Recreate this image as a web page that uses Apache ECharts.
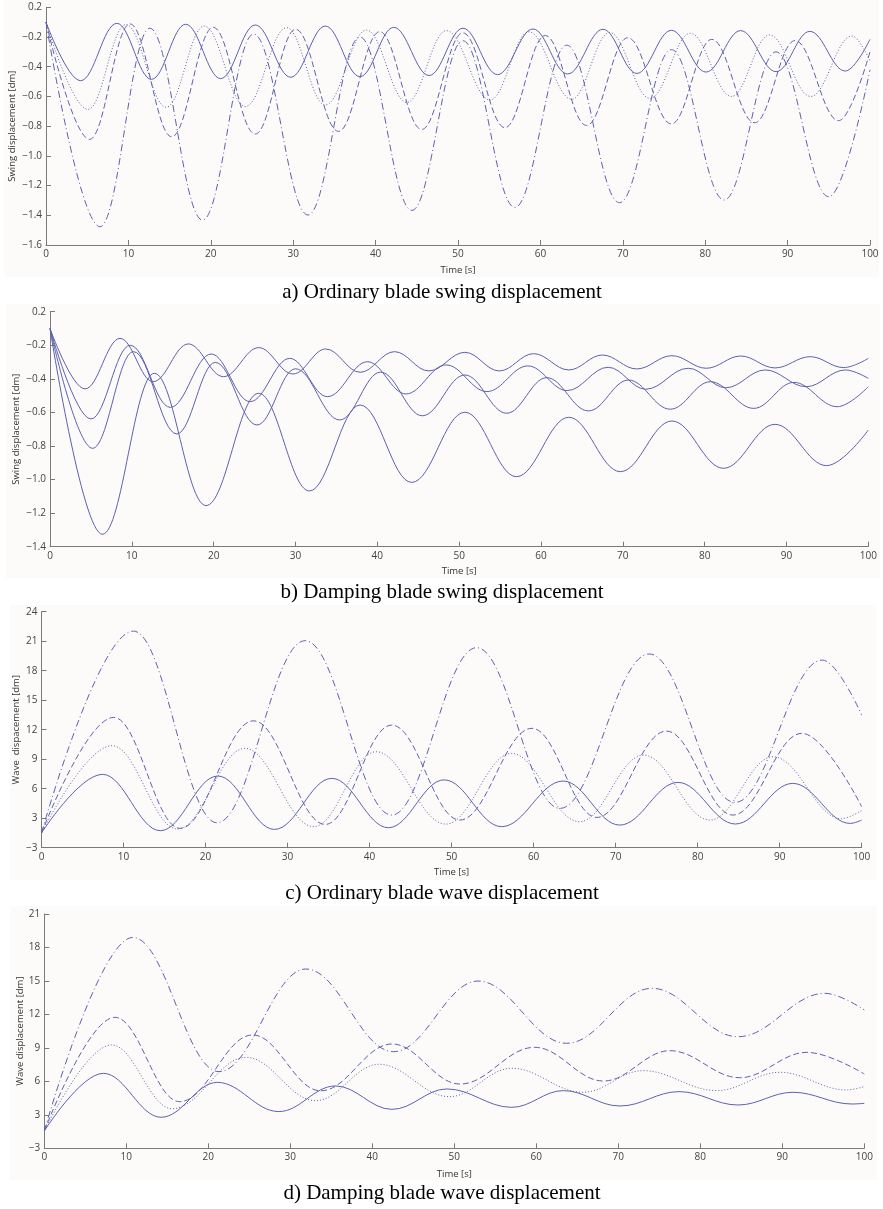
<!DOCTYPE html>
<html><head><meta charset="utf-8">
<script src="https://cdn.jsdelivr.net/npm/echarts@6/dist/echarts.min.js"></script>
<style>html,body{margin:0;padding:0;background:#fff}#c{width:883px;height:1209px}</style>
</head><body><div id="c"></div>
<script>
// ---------- tick labels ----------
const xTickLabels = ['0','10','20','30','40','50','60','70','80','90','100'];
const yTicksA = ['\u22121.6','\u22121.4','\u22121.2','\u22121.0','\u22120.8','\u22120.6','\u22120.4','\u22120.2','0.2'];
const yTicksB = ['\u22121.4','\u22121.2','\u22121.0','\u22120.8','\u22120.6','\u22120.4','\u22120.2','0.2'];
const yTicksC = ['\u22123','3','6','9','12','15','18','21','24'];
const yTicksD = ['\u22123','3','6','9','12','15','18','21'];

// ---------- a) Ordinary blade swing displacement ----------
const aSolid = [[0,-0.10],[4.2,-0.494],[8.6,-0.108],[12.8,-0.485],[16.95,-0.114],[21.2,-0.48],[25.4,-0.119],[29.7,-0.471],[33.9,-0.126],[38.1,-0.467],[42.2,-0.135],[46.5,-0.459],[50.6,-0.141],[54.8,-0.453],[59.1,-0.146],[63.3,-0.449],[67.6,-0.148],[71.7,-0.445],[75.9,-0.155],[80.1,-0.436],[84.3,-0.157],[88.6,-0.433],[92.7,-0.162],[97.0,-0.429],[100,-0.216]];
const aDotted = [[0,-0.10],[5.1,-0.687],[9.7,-0.116],[14.6,-0.673],[19.2,-0.126],[24.2,-0.668],[29.2,-0.137],[33.9,-0.658],[38.9,-0.153],[43.8,-0.64],[48.6,-0.157],[53.9,-0.624],[58.6,-0.165],[63.8,-0.619],[68.4,-0.17],[73.3,-0.613],[78.2,-0.175],[83.2,-0.60],[87.8,-0.186],[92.8,-0.60],[97.8,-0.193],[100,-0.36]];
const aDashed = [[0,-0.10],[5.3,-0.889],[10.2,-0.112],[15.25,-0.871],[20.3,-0.135],[25.4,-0.853],[30.3,-0.148],[35.5,-0.835],[40.5,-0.164],[45.6,-0.822],[50.6,-0.172],[55.7,-0.81],[60.6,-0.19],[65.6,-0.795],[70.6,-0.205],[75.9,-0.785],[80.8,-0.216],[86.0,-0.777],[90.9,-0.224],[96.2,-0.763],[100,-0.30]];
const aDashDot = [[0,-0.10],[6.55,-1.477],[12.6,-0.141],[19.0,-1.432],[25.2,-0.18],[31.8,-1.398],[38.1,-0.2],[44.4,-1.367],[50.6,-0.225],[56.9,-1.347],[63.2,-0.255],[69.6,-1.315],[75.9,-0.285],[82.3,-1.297],[88.6,-0.3],[95.0,-1.275],[100,-0.42]];

// ---------- b) Damping blade swing displacement ----------
const bLine1 = [[0,-0.10],[4.28,-0.46],[8.56,-0.159],[12.6,-0.417],[16.9,-0.192],[21.2,-0.387],[25.5,-0.214],[29.7,-0.371],[33.7,-0.222],[37.9,-0.361],[42.1,-0.238],[46.3,-0.353],[50.7,-0.242],[54.9,-0.353],[59.1,-0.25],[63.4,-0.347],[67.5,-0.258],[71.7,-0.341],[76.0,-0.262],[80.2,-0.337],[84.4,-0.264],[88.6,-0.335],[92.9,-0.268],[97.0,-0.333],[100,-0.278]];
const bLine2 = [[0,-0.10],[5.0,-0.639],[9.8,-0.2],[14.7,-0.57],[19.7,-0.252],[24.45,-0.536],[29.3,-0.278],[33.9,-0.506],[38.8,-0.298],[43.5,-0.49],[48.4,-0.317],[53.4,-0.476],[58.4,-0.323],[63.2,-0.47],[68.2,-0.331],[72.8,-0.462],[78.0,-0.337],[82.6,-0.453],[87.4,-0.347],[92.4,-0.447],[97.2,-0.347],[100,-0.397]];
const bLine3 = [[0,-0.10],[5.2,-0.814],[10.2,-0.238],[15.5,-0.728],[20.2,-0.302],[25.3,-0.675],[30.0,-0.34],[35.4,-0.645],[40.4,-0.36],[45.5,-0.62],[50.7,-0.377],[55.8,-0.605],[60.7,-0.393],[65.8,-0.591],[70.7,-0.407],[75.8,-0.581],[80.7,-0.417],[86.0,-0.576],[90.9,-0.421],[96.2,-0.566],[100,-0.447]];
const bLine4 = [[0,-0.10],[6.4,-1.326],[12.75,-0.367],[19.07,-1.155],[25.5,-0.486],[31.7,-1.068],[37.9,-0.556],[44.2,-1.017],[50.7,-0.599],[57.0,-0.983],[63.4,-0.629],[69.7,-0.953],[76.0,-0.651],[82.3,-0.933],[88.6,-0.671],[94.9,-0.917],[100,-0.705]];

// ---------- c) Ordinary blade wave displacement ----------
const cSolid = [[0,1.5],[7.44,7.46],[14.5,1.73],[21.5,7.29],[28.4,1.86],[35.4,7.05],[42.3,2.03],[49.1,6.9],[56.1,2.14],[63.6,6.78],[70.5,2.3],[77.6,6.64],[84.6,2.41],[91.6,6.54],[98.6,2.47],[100,2.81]];
const cDotted = [[0,1.5],[8.6,10.37],[16.6,1.9],[24.8,10.1],[33.2,2.14],[40.8,9.76],[49.3,2.4],[57.3,9.59],[65.6,2.64],[73.4,9.42],[81.5,2.81],[89.2,9.25],[97.5,2.95],[100,3.8]];
const cDashed = [[0,1.5],[8.8,13.25],[16.9,1.97],[25.85,12.9],[34.6,2.37],[42.7,12.47],[51.0,2.81],[59.8,12.14],[67.7,3.08],[76.2,11.86],[84.3,3.32],[92.7,11.63],[100,4.17]];
const cDashDot = [[0,1.5],[11.2,22.03],[21.4,2.54],[32.15,21.05],[42.7,3.32],[53.05,20.34],[63.2,4.0],[74.1,19.7],[84.55,4.61],[95.2,19.08],[100,13.49]];

// ---------- d) Damping blade wave displacement ----------
const dSolid = [[0,1.55],[7.2,6.72],[14.25,2.78],[21.1,5.91],[28.6,3.29],[35.5,5.59],[42.4,3.49],[49.1,5.32],[57.0,3.67],[63.3,5.17],[70.2,3.79],[77.4,5.08],[84.6,3.88],[91.3,5.02],[98.5,3.97],[100,4.03]];
const dDotted = [[0,1.55],[8.2,9.26],[15.6,3.55],[24.6,8.15],[33.1,4.27],[40.8,7.53],[49.4,4.63],[57.0,7.17],[65.7,5.02],[73.0,6.96],[82.0,5.17],[89.7,6.81],[97.8,5.23],[100,5.53]];
const dDashed = [[0,1.55],[8.6,11.74],[16.5,4.18],[25.4,10.16],[33.7,5.15],[42.4,9.35],[50.7,5.76],[59.8,9.05],[68.2,6.03],[76.3,8.75],[84.8,6.33],[93.0,8.6],[100,6.66]];
const dDashDot = [[0,1.55],[10.8,18.9],[21.3,6.87],[31.9,16.07],[42.6,8.66],[52.9,14.99],[63.7,9.41],[74.1,14.34],[84.6,10.0],[95.2,13.89],[100,12.4]];

// ---------- styling ----------
const FONT = '"Open Sans", "Noto Sans", sans-serif';
const LINE = '#5d61ae';
const AXIS = '#7a7a7a';
const STY = { solid: 'solid', dotted: [1, 2], dashed: [6, 3], dashdot: [7, 3, 1, 3] };

const grids = [
  { left: 46, top: 7.3, width: 824, height: 237.7, outerBoundsMode: 'none', containLabel: false },
  { left: 50, top: 311.7, width: 818.3, height: 235, outerBoundsMode: 'none', containLabel: false },
  { left: 41.5, top: 611.7, width: 820.2, height: 236, outerBoundsMode: 'none', containLabel: false },
  { left: 44.3, top: 914, width: 820, height: 234.3, outerBoundsMode: 'none', containLabel: false }
];

function xAx(gi, gap) {
  return {
    type: 'value', gridIndex: gi, min: 0, max: 100, interval: 10,
    name: 'Time [s]', nameLocation: 'middle', nameGap: gap, nameMoveOverlap: false,
    nameTextStyle: { fontFamily: FONT, fontSize: 9.5, color: '#333' },
    axisLine: { show: true, onZero: false, lineStyle: { color: AXIS, width: 1 } },
    axisTick: { show: true, inside: true, length: 5, lineStyle: { color: AXIS } },
    axisLabel: { fontFamily: FONT, fontSize: 10, color: '#444', margin: 4,
      formatter: v => xTickLabels[Math.round(v / 10)] },
    splitLine: { show: false }
  };
}
function yAx(gi, min, max, interval, labels, name, gap) {
  return {
    type: 'value', gridIndex: gi, min: min, max: max, interval: interval,
    name: name, nameLocation: 'middle', nameGap: gap, nameMoveOverlap: false,
    nameTextStyle: { fontFamily: FONT, fontSize: 9.5, color: '#333' },
    axisLine: { show: true, onZero: false, lineStyle: { color: AXIS, width: 1 } },
    axisTick: { show: true, inside: true, length: 5, lineStyle: { color: AXIS } },
    axisLabel: { fontFamily: FONT, fontSize: 10, color: '#444', margin: 4,
      formatter: v => labels[Math.round((v - min) / interval)] },
    splitLine: { show: false }
  };
}
function ser(gi, data, type) {
  return {
    type: 'line', xAxisIndex: gi, yAxisIndex: gi, data: data,
    symbol: 'none', showSymbol: false, smooth: 0.38, smoothMonotone: 'x',
    lineStyle: { color: LINE, width: 1, type: STY[type] },
    silent: true, animation: false
  };
}

const bgRects = [[4, 0, 875, 277], [6, 304, 874, 274], [10, 605, 866, 275], [10, 906, 867, 274]];
const captions = [
  ['a) Ordinary blade swing displacement', 292],
  ['b) Damping blade swing displacement', 592],
  ['c) Ordinary blade wave displacement', 893],
  ['d) Damping blade wave displacement', 1193]
];

const graphic = [];
bgRects.forEach(r => graphic.push({ type: 'rect', z: -10, silent: true,
  shape: { x: r[0], y: r[1], width: r[2], height: r[3] }, style: { fill: '#fcfbf9' } }));
captions.forEach(c => graphic.push({ type: 'text', x: 442, y: c[1], silent: true,
  style: { text: c[0], font: '21px "Liberation Serif", "Times New Roman", serif', fill: '#000',
    textAlign: 'center', textVerticalAlign: 'middle' } }));

const option = {
  backgroundColor: '#ffffff',
  animation: false,
  grid: grids,
  xAxis: [xAx(0, 20), xAx(1, 20), xAx(2, 20), xAx(3, 21)],
  yAxis: [
    yAx(0, -1.6, 0, 0.2, yTicksA, 'Swing displacement [dm]', 28.5),
    yAx(1, -1.4, 0, 0.2, yTicksB, 'Swing displacement [dm]', 28.5),
    yAx(2, 0, 24, 3, yTicksC, 'Wave  dispacement [dm]', 20),
    yAx(3, 0, 21, 3, yTicksD, 'Wave displacement [dm]', 19.5)
  ],
  graphic: graphic,
  series: [
    ser(0, aSolid, 'solid'), ser(0, aDotted, 'dotted'), ser(0, aDashed, 'dashed'), ser(0, aDashDot, 'dashdot'),
    ser(1, bLine1, 'solid'), ser(1, bLine2, 'solid'), ser(1, bLine3, 'solid'), ser(1, bLine4, 'solid'),
    ser(2, cSolid, 'solid'), ser(2, cDotted, 'dotted'), ser(2, cDashed, 'dashed'), ser(2, cDashDot, 'dashdot'),
    ser(3, dSolid, 'solid'), ser(3, dDotted, 'dotted'), ser(3, dDashed, 'dashed'), ser(3, dDashDot, 'dashdot')
  ]
};
const chart = echarts.init(document.getElementById('c'), null, { renderer: 'canvas' });
chart.setOption(option);
</script></body></html>
